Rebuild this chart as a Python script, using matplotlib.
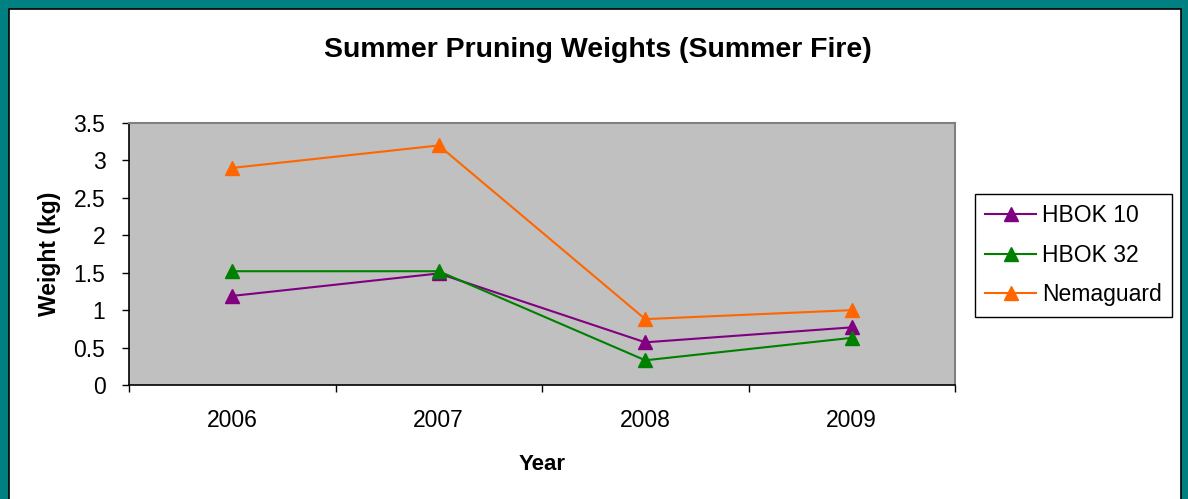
import matplotlib.pyplot as plt
from matplotlib.patches import Rectangle
from matplotlib.ticker import FuncFormatter

plt.rcParams['font.family'] = ['Liberation Sans', 'DejaVu Sans']

years = ["2006", "2007", "2008", "2009"]
hbok10 = [1.19, 1.49, 0.57, 0.77]
hbok32 = [1.52, 1.52, 0.33, 0.63]
nemaguard = [2.9, 3.2, 0.88, 1.0]

series = [("HBOK 10", hbok10, "#800080"),
          ("HBOK 32", hbok32, "#008000"),
          ("Nemaguard", nemaguard, "#FF6600")]

fig = plt.figure(figsize=(11.88, 4.99), dpi=100)

# teal frame round the chart area
fig.patches.append(Rectangle((0, 0), 1, 1, transform=fig.transFigure,
                             facecolor="#008080", edgecolor="none", zorder=-2))
fig.patches.append(Rectangle((9 / 1188, -0.05), (1181 - 9) / 1188, 1.05 - 9 / 499,
                             transform=fig.transFigure, facecolor="white",
                             edgecolor="black", linewidth=1.2, zorder=-1))

ax = fig.add_axes([129 / 1188, 1 - 385 / 499, 826 / 1188, 262 / 499])
ax.set_facecolor("#C0C0C0")

x = list(range(len(years)))
for name, vals, col in series:
    ax.plot(x, vals, color=col, linewidth=1.5, marker="^", markersize=9.5, label=name)

ax.set_xlim(-0.5, len(years) - 0.5)
ax.set_ylim(0, 3.5)
ax.set_yticks([i * 0.5 for i in range(8)])
ax.yaxis.set_major_formatter(FuncFormatter(lambda v, p: f"{v:g}"))

ax.set_xticks([i - 0.5 for i in range(len(years) + 1)])
ax.set_xticklabels([])
ax.set_xticks(x, minor=True)
ax.set_xticklabels(years, minor=True)
ax.tick_params(axis="x", which="minor", length=0, pad=17, labelsize=16.5)
ax.tick_params(axis="x", which="major", length=5, width=1, color="black")
ax.tick_params(axis="y", length=5, width=1, labelsize=16.5, pad=12)

for s in ["top", "right"]:
    ax.spines[s].set_color("#808080")
    ax.spines[s].set_linewidth(1.5)
for s in ["left", "bottom"]:
    ax.spines[s].set_color("black")
    ax.spines[s].set_linewidth(1.2)

ax.set_xlabel("Year", fontsize=16, fontweight="bold", labelpad=16)
ax.set_ylabel("Weight (kg)", fontsize=16.5, fontweight="bold", labelpad=9)
fig.text(598 / 1188, 1 - 50 / 499, "Summer Pruning Weights (Summer Fire)",
         fontsize=20.5, fontweight="bold", ha="center", va="center")

leg = ax.legend(loc="upper left", bbox_to_anchor=(975 / 1188, 1 - 194 / 499),
                bbox_transform=fig.transFigure, borderaxespad=0, fontsize=16.5,
                frameon=True, fancybox=False, edgecolor="black", framealpha=1,
                handlelength=2.2, borderpad=0.45, labelspacing=0.72,
                handletextpad=0.26)
leg.get_frame().set_linewidth(1)

fig.savefig("out.png", dpi=100)
